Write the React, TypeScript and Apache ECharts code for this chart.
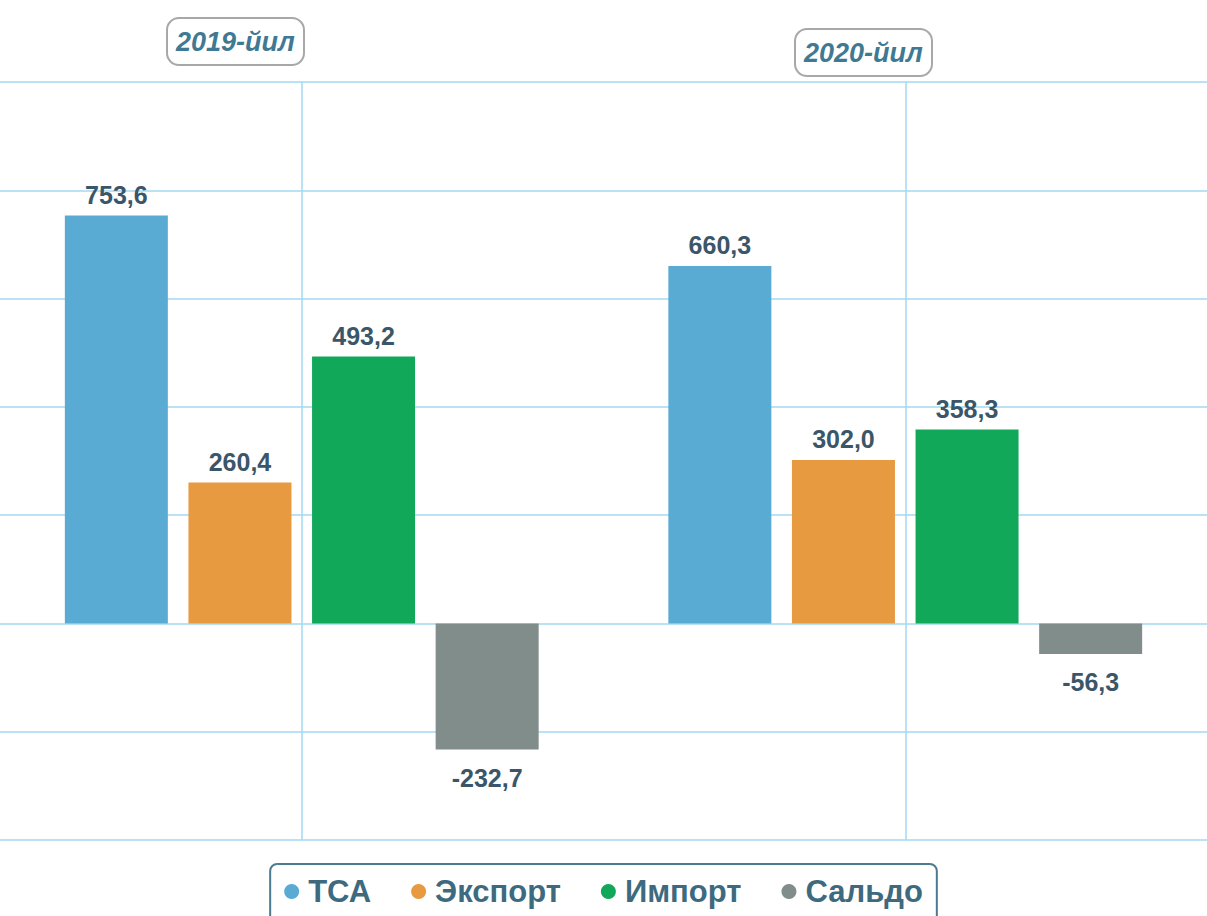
import React, { useEffect, useRef } from "react";
import * as echarts from "echarts";

const categories = ["2019-йил", "2020-йил"];
const seriesNames = ["ТСА", "Экспорт", "Импорт", "Сальдо"];
const tsa = [753.6, 660.3];
const eksport = [260.4, 302.0];
const import_ = [493.2, 358.3];
const saldo = [-232.7, -56.3];
const colors = ["#5aabd3", "#e89a40", "#12a85a", "#808d8a"];
const yTicks = { min: -400, max: 1000, interval: 200 };

const fmt = (v: number) => v.toFixed(1).replace(".", ",");

const titleStyle = {
  fontFamily: "Liberation Sans",
  fontStyle: "italic",
  fontWeight: "bold",
  fontSize: 27,
  color: "#3f7993",
};

export default function App() {
  const ref = useRef<HTMLDivElement>(null);
  useEffect(() => {
    if (!ref.current) return;
    const chart = echarts.init(ref.current, null, { renderer: "svg" });
    const values = [tsa, eksport, import_, saldo];
    const series: any[] = seriesNames.map((name, i) => ({
      name,
      type: "bar",
      barWidth: 103,
      barGap: "20%",
      itemStyle: { color: colors[i] },
      data: values[i].map((v) => ({
        value: v,
        label: { position: v < 0 ? "bottom" : "top", distance: v < 0 ? 16 : 8 },
      })),
      label: {
        show: true,
        formatter: (p: any) => fmt(p.value),
        fontFamily: "Liberation Sans",
        fontWeight: "bold",
        fontSize: 25,
        color: "#3b5668",
      },
    }));
    series.push({
      name: "separators",
      type: "line",
      data: [],
      markLine: {
        silent: true,
        symbol: "none",
        label: { show: false },
        lineStyle: { color: "#a3d9f5", type: "solid", width: 1.5 },
        data: categories.map((c) => ({ xAxis: c })),
      },
    });
    chart.setOption({
      animation: false,
      backgroundColor: "#ffffff",
      title: [
        {
          text: categories[0],
          left: 167,
          top: 18,
          padding: [10, 9, 10, 9],
          borderColor: "#a8a8a8",
          borderWidth: 2,
          borderRadius: 12,
          textStyle: titleStyle,
        },
        {
          text: categories[1],
          left: 795,
          top: 29,
          padding: [10, 9, 10, 9],
          borderColor: "#a8a8a8",
          borderWidth: 2,
          borderRadius: 12,
          textStyle: titleStyle,
        },
      ],
      legend: {
        data: seriesNames,
        left: "center",
        top: 864,
        icon: "circle",
        itemWidth: 15,
        itemHeight: 15,
        itemGap: 40,
        padding: [12, 14, 30, 14],
        borderColor: "#4a7b91",
        borderWidth: 2,
        borderRadius: 7,
        textStyle: {
          fontFamily: "Liberation Sans",
          fontWeight: "bold",
          fontSize: 31,
          color: "#3e6a80",
          padding: [0, 0, 0, 4],
        },
      },
      grid: { left: 0, right: 0, top: 82, bottom: 76, containLabel: false },
      xAxis: {
        type: "category",
        data: categories,
        axisLine: { show: false },
        axisTick: { show: false },
        axisLabel: { show: false },
        splitLine: { show: false },
      },
      yAxis: {
        type: "value",
        min: yTicks.min,
        max: yTicks.max,
        interval: yTicks.interval,
        axisLine: { show: false },
        axisTick: { show: false },
        axisLabel: { show: false },
        splitLine: { show: true, lineStyle: { color: "#a3d9f5", width: 1.5 } },
      },
      series,
    });
    return () => chart.dispose();
  }, []);
  return (
    <div
      ref={ref}
      style={{ position: "absolute", left: 0, top: 0, width: 1207, height: 916 }}
    />
  );
}
